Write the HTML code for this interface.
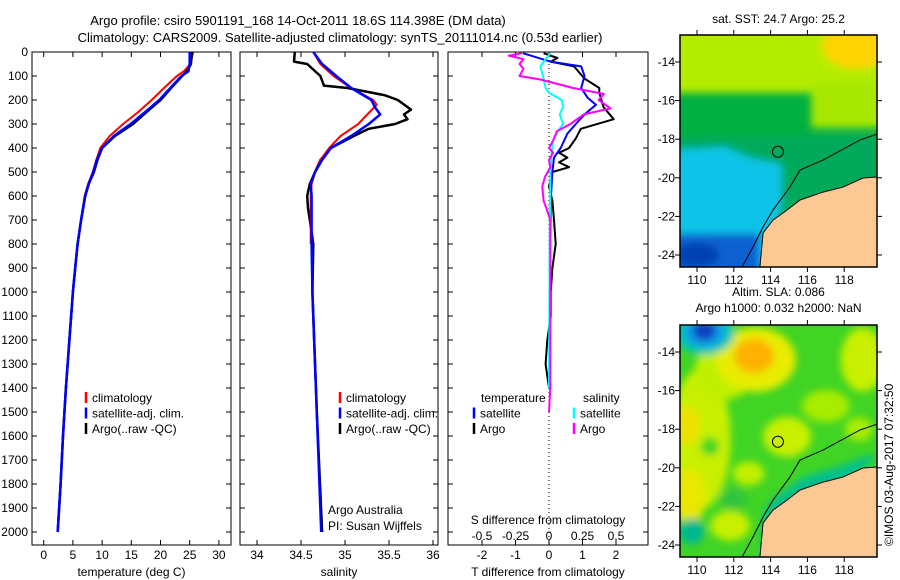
<!DOCTYPE html>
<html><head><meta charset="utf-8"><style>
html,body{margin:0;padding:0;background:#fff;width:900px;height:580px;overflow:hidden}
svg{font-family:"Liberation Sans",sans-serif;font-size:12px}
</style></head><body>
<svg id="fig" width="900" height="580" viewBox="0 0 900 580" xmlns="http://www.w3.org/2000/svg">
<text x="298" y="25" font-size="13" text-anchor="middle">Argo profile: csiro 5901191_168 14-Oct-2011 18.6S 114.398E (DM data)</text>
<text x="340" y="42" font-size="13" text-anchor="middle">Climatology: CARS2009. Satellite-adjusted climatology: synTS_20111014.nc (0.53d earlier)</text>
<g id="p1"></g>
<g id="p2"></g>
<g id="p3"></g>
<g id="m1"></g>
<g id="m2"></g>
<text transform="translate(893,546) rotate(-90)" font-size="12">©IMOS 03-Aug-2017 07:32:50</text>
</svg>
<script>
// ---- data ----
const tDepth=[0,50,80,100,150,200,250,300,350,400,450,500,550,600,700,800,900,1000,1200,1400,1600,1800,2000];
const tempArgo=[25.4,25.2,24.5,23.7,21.8,20.0,17.6,15.3,12.2,10.0,9.2,8.6,7.7,7.1,6.4,5.8,5.4,5.0,4.4,3.8,3.3,2.9,2.4];
const tempClim=[25.6,25.1,24.0,22.8,20.6,18.5,16.2,13.6,11.3,9.7,9.0,8.4,7.6,7.0,6.4,5.8,5.4,5.0,4.4,3.8,3.3,2.9,2.4];
const tempSat=[25.0,25.0,24.8,23.6,21.7,19.8,17.4,14.9,12.0,10.0,9.1,8.5,7.7,7.1,6.4,5.8,5.4,5.0,4.4,3.8,3.3,2.9,2.4];
const sDepthArgo=[0,40,50,100,140,150,180,200,240,260,280,300,320,350,400,450,500,550,600,650,700,800,1000,1500,2000];
const salArgo=[34.43,34.42,34.57,34.72,34.76,35.03,35.45,35.6,35.75,35.67,35.71,35.57,35.27,35.1,34.84,34.72,34.66,34.6,34.57,34.58,34.6,34.64,34.63,34.68,34.74];
const sDepthClim=[0,50,100,150,200,220,250,300,350,400,450,500,550,600,800];
const salClim=[34.64,34.72,34.87,35.07,35.32,35.36,35.28,35.15,34.95,34.82,34.72,34.66,34.62,34.61,34.61];
const sDepthSat=[0,50,100,150,200,230,260,300,350,400,450,500,550,600,800,1000,1500,2000];
const salSat=[34.64,34.74,34.9,35.07,35.3,35.34,35.4,35.27,35.07,34.84,34.74,34.66,34.61,34.62,34.62,34.63,34.68,34.73];
const dDepthArgoT=[5,25,40,60,110,150,170,230,280,320,360,400,420,440,460,480,500,560,620,700,800,900,1000,1100,1200,1300,1400];
const dTArgo=[-0.16,0.25,0.05,0.75,1.05,1.5,1.5,1.63,1.93,0.95,0.8,0.6,0.3,0.55,0.3,0.6,0.1,0,0.1,0.15,0.2,0.1,0.05,0.05,-0.05,-0.1,0];
const dDepthSatT=[5,40,60,100,150,190,220,260,300,340,400,440,500,600,800,1400];
const dTSat=[-0.78,0.04,0.96,1.06,0.96,1.15,1.4,1.06,0.8,0.55,0.35,0.15,0.1,0.06,0.03,0.02];
const dDepthArgoS=[5,15,30,50,70,100,115,150,175,200,235,260,300,330,370,400,420,450,480,520,560,620,650,700,1000,1400,1500];
const dSArgo=[-0.2,-0.3,-0.19,-0.22,-0.19,-0.22,-0.06,0.18,0.41,0.37,0.46,0.26,0.16,0.06,0.03,0,0.03,0,0.01,-0.03,-0.05,-0.04,-0.02,0.01,0.01,0.01,0];
const dDepthSatS=[5,30,60,100,150,170,200,230,260,300,330,370,420,500,800,1400];
const dSSat=[0.01,-0.025,-0.065,-0.045,-0.025,0,0.095,0.105,0.08,0.105,0.065,0.03,0.02,0.01,0.005,0];
const depthTicks=[0,100,200,300,400,500,600,700,800,900,1000,1100,1200,1300,1400,1500,1600,1700,1800,1900,2000];
const tempTicks=[0,5,10,15,20,25,30];
const salTicks=[34,34.5,35,35.5,36];
const tDiffTicks=[-2,-1,0,1,2];
const sDiffTicks=[-0.5,-0.25,0,0.25,0.5];
const lonTicks=[110,112,114,116,118];
const latTicks=[-14,-16,-18,-20,-22,-24];
const landLon=[119.8,119.02,117.93,116.85,115.6,114.9,114.13,113.59,113.42];
const landLat=[-19.96,-20.01,-20.48,-20.74,-21.15,-21.67,-22.19,-22.86,-24.62];
const coastLon=[119.8,118.86,116.85,115.6,115.05,114.13,113.59,113.04,112.45];
const coastLat=[-17.73,-18.04,-19.08,-19.6,-20.48,-21.67,-22.55,-23.59,-24.62];
const argoLon=114.398, argoLat=-18.6;

const NS='http://www.w3.org/2000/svg';
function mk(par,tag,attrs,txt){const e=document.createElementNS(NS,tag);for(const k in attrs)e.setAttribute(k,attrs[k]);if(txt!==undefined)e.textContent=txt;par.appendChild(e);return e;}
const top0=52, bot=545;
const yD=d=>top0+d*0.24;

function panel(g,x0,x1,xs,xticks,xlab,showY){
  mk(g,'rect',{x:x0,y:top0,width:x1-x0,height:bot-top0,fill:'none',stroke:'#000','stroke-width':1});
  depthTicks.forEach(d=>{const y=yD(d);
    const t1=mk(g,'line',{x1:x0,x2:x0+5,y1:y,y2:y,stroke:'#000'});
    
    mk(g,'line',{x1:x1-5,x2:x1,y1:y,y2:y,stroke:'#000'});
    if(showY){const t=mk(g,'text',{x:x0-4,y:y+4,'text-anchor':'end'},String(d));
      }
  });
  xticks.forEach(v=>{const x=xs(v);
    mk(g,'line',{x1:x,x2:x,y1:bot,y2:bot-5,stroke:'#000'});
    mk(g,'line',{x1:x,x2:x,y1:top0,y2:top0+5,stroke:'#000'});
  });
  if(xlab){const t=mk(g,'text',{x:(x0+x1)/2,y:576,'text-anchor':'middle'},xlab);
    }
}
function xlabels(g,ticks,xs,y){ticks.forEach(v=>{const t=mk(g,'text',{x:xs(v),y:y,'text-anchor':'middle'},String(v));
  });}
function line(g,xs,vals,depths,color,w,name){
  const pts=vals.map((v,i)=>xs(v).toFixed(1)+','+yD(depths[i]).toFixed(1)).join(' ');
  const p=mk(g,'polyline',{points:pts,fill:'none',stroke:color,'stroke-width':w,'stroke-linejoin':'round'});
  
}
function legend(g,x,y,items){items.forEach((it,i)=>{
  mk(g,'line',{x1:x,x2:x,y1:y+i*15.5-10,y2:y+i*15.5+1,stroke:it[1],'stroke-width':2.5});
  const t=mk(g,'text',{x:x+6,y:y+i*15.5},it[0]);
  });}

// panel 1
const p1=document.getElementById('p1');
const xT=v=>43.7+v*5.84;
panel(p1,32,231,xT,tempTicks,'temperature (deg C)',true);
xlabels(p1,tempTicks,xT,559);
line(p1,xT,tempClim,tDepth,'#f00',2,'temp-climatology-line');
line(p1,xT,tempArgo,tDepth,'#000',2.5,'temp-argo-line');
line(p1,xT,tempSat,tDepth,'#00f',2.5,'temp-satellite-line');
legend(p1,86,402,[['climatology','#f00'],['satellite-adj. clim.','#00f'],['Argo(..raw -QC)','#000']]);

// panel 2
const p2=document.getElementById('p2');
const xS=v=>257+(v-34)*88;
panel(p2,240,438,xS,salTicks,'salinity',false);
xlabels(p2,salTicks,xS,559);
line(p2,xS,salArgo,sDepthArgo,'#000',2.5,'sal-argo-line');
line(p2,xS,salClim,sDepthClim,'#f00',2,'sal-climatology-line');
line(p2,xS,salSat,sDepthSat,'#00f',2.5,'sal-satellite-line');
legend(p2,340,402,[['climatology','#f00'],['satellite-adj. clim.','#00f'],['Argo(..raw -QC)','#000']]);
{const a=mk(p2,'text',{x:328,y:546-32},'Argo Australia');
 const b=mk(p2,'text',{x:328,y:546-16},'PI: Susan Wijffels');}

// panel 3
const p3=document.getElementById('p3');
const xDT=v=>549+v*33.5, xDS=v=>549+v*134;
panel(p3,448,648,xDT,tDiffTicks,'T difference from climatology',false);
xlabels(p3,tDiffTicks,xDT,559);
mk(p3,'line',{x1:549,x2:549,y1:top0,y2:bot,stroke:'#000','stroke-dasharray':'1,3'});
line(p3,xDT,dTArgo,dDepthArgoT,'#000',2,'tdiff-argo-line');
line(p3,xDT,dTSat,dDepthSatT,'#00f',2,'tdiff-satellite-line');
line(p3,xDS,dSSat,dDepthSatS,'#0ff',2,'sdiff-satellite-line');
line(p3,xDS,dSArgo,dDepthArgoS,'#f0f',2,'sdiff-argo-line');
{const t=mk(p3,'text',{x:481,y:402},'temperature');
 const s=mk(p3,'text',{x:583,y:402},'salinity');}
legend(p3,474,417.5,[['satellite','#00f'],['Argo','#000']]);
legend(p3,574,417.5,[['satellite','#0ff'],['Argo','#f0f']]);
{const t=mk(p3,'text',{x:548,y:524,'text-anchor':'middle'},'S difference from climatology');}
xlabels(p3,sDiffTicks,xDS,540);

// maps
function mapFrame(g,dy,title1,title2,fills){
  const lx=v=>697+(v-110)*18.4, ly=v=>62+dy+(-14-v)*19.3;
  const X0=680,X1=877,Y0=35+dy,Y1=267+dy;
  const cid='clip'+dy;
  const defs=mk(g,'defs',{});
  const cp=mk(defs,'clipPath',{id:cid});mk(cp,'rect',{x:X0,y:Y0,width:X1-X0,height:Y1-Y0});
  const f=mk(defs,'filter',{id:'bl'+dy,x:'-20%',y:'-20%',width:'140%',height:'140%'});mk(f,'feGaussianBlur',{stdDeviation:4});
  const inner=mk(g,'g',{'clip-path':'url(#'+cid+')'});
  fills(inner,lx,ly,'url(#bl'+dy+')');
  const lp=landLon.map((v,i)=>lx(v)+','+ly(landLat[i])).join(' ')+' '+X1+','+Y1+' '+X1+','+ly(landLat[0]);
  const land=mk(inner,'polygon',{points:lp,fill:'#fcc995'});
  const cl=mk(inner,'polyline',{points:coastLon.map((v,i)=>lx(v)+','+ly(coastLat[i])).join(' '),fill:'none',stroke:'#000','stroke-width':1});
  
  mk(inner,'polyline',{points:landLon.map((v,i)=>lx(v)+','+ly(landLat[i])).join(' '),fill:'none',stroke:'#000','stroke-width':1});
  const c=mk(inner,'circle',{cx:lx(argoLon),cy:ly(argoLat-0.05),r:5.5,fill:'none',stroke:'#000','stroke-width':1});
  
  mk(g,'rect',{x:X0,y:Y0,width:X1-X0,height:Y1-Y0,fill:'none',stroke:'#000','stroke-width':1.5});
  lonTicks.forEach(v=>{const x=lx(v);mk(g,'line',{x1:x,x2:x,y1:Y0,y2:Y0-5,stroke:'#000'});mk(g,'line',{x1:x,x2:x,y1:Y1,y2:Y1+5,stroke:'#000'});
    const t=mk(g,'text',{x:x,y:Y1+17,'text-anchor':'middle'},String(v));});
  latTicks.forEach(v=>{const y=ly(v);mk(g,'line',{x1:X0,x2:X0-5,y1:y,y2:y,stroke:'#000'});mk(g,'line',{x1:X1,x2:X1+5,y1:y,y2:y,stroke:'#000'});
    const t=mk(g,'text',{x:X0-5,y:y+4,'text-anchor':'end'},String(v));});
  const t1=mk(g,'text',{x:(X0+X1)/2,y:title2?Y0-29:Y0-12,'text-anchor':'middle'},title1);
  if(title2){const t2=mk(g,'text',{x:(X0+X1)/2,y:Y0-13,'text-anchor':'middle'},title2);}
}
mapFrame(document.getElementById('m1'),0,'sat. SST: 24.7 Argo: 25.2',null,(g,lx,ly,bl)=>{
  mk(g,'rect',{x:670,y:25,width:220,height:260,fill:'#00b040'});
  const b=mk(g,'g',{filter:bl});
  mk(b,'rect',{x:660,y:20,width:240,height:ly(-15.6)-20,fill:'#b4ec00'});
  mk(b,'rect',{x:lx(116.2),y:ly(-15),width:120,height:ly(-17.4)-ly(-15),fill:'#a8e800'});
  mk(b,'ellipse',{cx:lx(118.7),cy:ly(-13.2),rx:35,ry:22,fill:'#ffd400'});
  mk(b,'rect',{x:660,y:ly(-17.8),width:240,height:120,fill:'#00aa5a'});
  mk(b,'polygon',{points:lx(108)+','+ly(-18.6)+' '+lx(111.5)+','+ly(-18.4)+' '+lx(113)+','+ly(-19)+' '+lx(114.6)+','+ly(-19.3)+' '+lx(114.6)+','+ly(-21.3)+' '+lx(113.6)+','+ly(-25)+' '+lx(108)+','+ly(-25),fill:'#10c4e8'});
  mk(b,'rect',{x:660,y:ly(-22.9),width:lx(113.4)-660,height:60,fill:'#1060d0'});
  mk(b,'ellipse',{cx:lx(110),cy:ly(-24),rx:22,ry:12,fill:'#0040b0'});
});
mapFrame(document.getElementById('m2'),290,'Altim. SLA: 0.086','Argo h1000: 0.032 h2000: NaN',(g,lx,ly,bl)=>{
  mk(g,'rect',{x:670,y:315,width:220,height:260,fill:'#40d424'});
  const b=mk(g,'g',{filter:bl});
  const E=(lo,la,rx,ry,c)=>mk(b,'ellipse',{cx:lx(lo),cy:ly(la),rx:rx,ry:ry,fill:c});
  E(110.2,-18.5,30,70,'#c8f000');E(111.5,-15,30,28,'#c0f000');E(113.2,-14.4,40,32,'#e8ec00');E(113.1,-14.2,20,17,'#ffb000');
  E(119,-14.4,22,32,'#c8f000');E(117,-16.8,24,16,'#a8ec00');E(114.9,-18.4,24,20,'#c8f000');E(118.8,-18,14,12,'#a8ec00');
  E(109.6,-21.5,16,28,'#e8e800');E(109.5,-17.8,12,18,'#f0e000');E(111.8,-23,20,15,'#c8f000');E(112.8,-20.3,16,12,'#c0f000');
  E(110.7,-18.9,9,9,'#40d424');E(112,-21.6,14,10,'#30c440');
  E(110.4,-13,30,22,'#00c8b0');E(110.4,-13,21,15,'#10a0e8');E(110.4,-12.9,12,10,'#1040c0');
  E(109.7,-23.3,13,13,'#00b890');
  mk(b,'polygon',{points:landLon.map((v,i)=>lx(v+0.05)+','+ly(landLat[i]+0.6)).join(' ')+' '+lx(120)+','+ly(-25)+' '+lx(113)+','+ly(-25),fill:'#00c090'});
});
</script>
</body></html>
